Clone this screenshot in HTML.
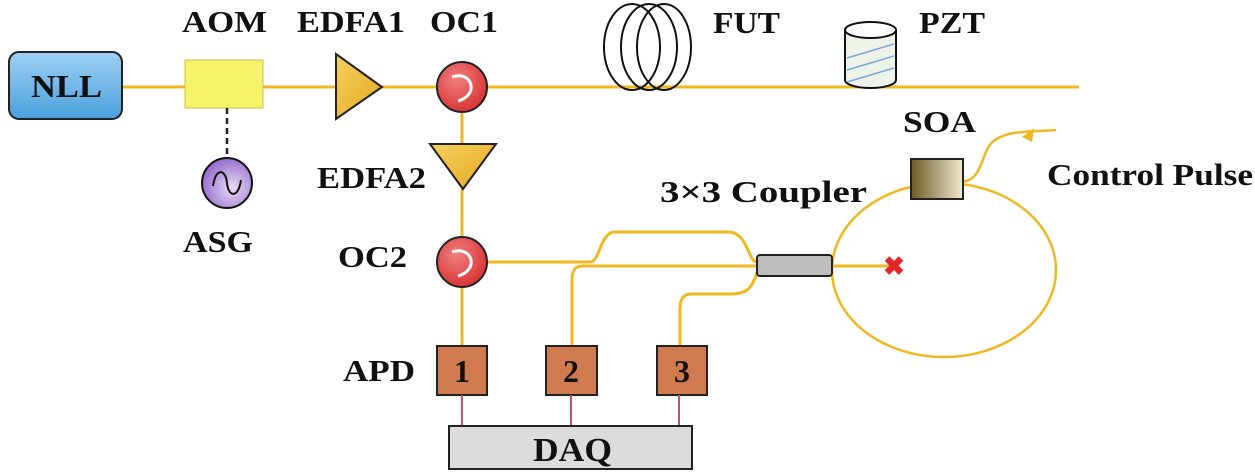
<!DOCTYPE html>
<html><head><meta charset="utf-8"><style>
html,body{margin:0;padding:0;background:#fff}
svg{display:block}
text{font-family:"Liberation Serif",serif;font-weight:bold;fill:#111}
</style></head><body>
<svg width="1255" height="475" viewBox="0 0 1255 475" xmlns="http://www.w3.org/2000/svg">
<defs>
<linearGradient id="blue" x1="0" y1="0" x2="0" y2="1"><stop offset="0" stop-color="#9fd0f2"/><stop offset="1" stop-color="#4aa0dc"/></linearGradient>
<radialGradient id="red" cx="0.4" cy="0.35" r="0.7"><stop offset="0" stop-color="#f08080"/><stop offset="1" stop-color="#d83030"/></radialGradient>
<radialGradient id="purp" cx="0.6" cy="0.6" r="0.7"><stop offset="0" stop-color="#e8ddf5"/><stop offset="1" stop-color="#8a5cc8"/></radialGradient>
<linearGradient id="tri" x1="0" y1="0" x2="1" y2="1"><stop offset="0" stop-color="#f5d060"/><stop offset="1" stop-color="#e6a820"/></linearGradient>
<linearGradient id="soa" x1="0" y1="0" x2="1" y2="0"><stop offset="0" stop-color="#6b5a25"/><stop offset="1" stop-color="#f2ead0"/></linearGradient>
</defs>
<g stroke="#f0b820" stroke-width="3" fill="none">
<line x1="122" y1="87" x2="1079" y2="87"/>
<line x1="462" y1="113" x2="462" y2="346"/>
<path d="M488 262 H590 C600 262 600 232 615 232 H728 C748 232 748 262 757 262"/>
<path d="M757 266 H582 C574 266 572 272 572 280 V346"/>
<path d="M757 272 C752 290 745 294 730 294 H692 C682 294 680 300 680 310 V346"/>
<line x1="832" y1="266" x2="890" y2="266"/>
<ellipse cx="944" cy="270" rx="112" ry="87" stroke-width="2.5"/>
<path d="M963 182 C985 178 980 150 995 140 C1010 130 1030 132 1056 130" stroke-width="2.5"/>
</g>
<polygon points="1022,137 1034,128 1032,142" fill="#f0b820"/>
<rect x="9" y="52" width="113" height="67" rx="10" fill="url(#blue)" stroke="#222" stroke-width="2"/>
<text x="31" y="97" font-size="32" textLength="71" lengthAdjust="spacingAndGlyphs">NLL</text>
<rect x="185" y="60" width="78" height="48" fill="#f6f36a" stroke="#c8c44a" stroke-width="1"/>
<line x1="227" y1="108" x2="227" y2="158" stroke="#222" stroke-width="2.5" stroke-dasharray="6,4"/>
<circle cx="227" cy="183" r="25" fill="url(#purp)" stroke="#111" stroke-width="2"/>
<path d="M213 186 C216 166 226 170 227 183 C228 196 238 200 241 180" fill="none" stroke="#111" stroke-width="2"/>
<polygon points="336,54 382,87 336,119" fill="url(#tri)" stroke="#222" stroke-width="2"/>
<polygon points="430,144 496,144 463,189" fill="url(#tri)" stroke="#222" stroke-width="2"/>
<g stroke="#222" stroke-width="2">
<circle cx="462" cy="87" r="25" fill="url(#red)"/>
<circle cx="462" cy="262" r="25" fill="url(#red)"/>
</g>
<g fill="none" stroke="#fff" stroke-width="3">
<path d="M452 77 C472 70 480 95 458 101"/>
<path d="M452 252 C472 245 480 270 458 276"/>
</g>
<g fill="none" stroke="#111" stroke-width="2">
<ellipse cx="632" cy="47" rx="28" ry="43"/>
<ellipse cx="649" cy="47" rx="28" ry="43"/>
<ellipse cx="664" cy="47" rx="27" ry="43"/>
</g>
<path d="M845 30 V80 A25.5 8 0 0 0 896 80 V30" fill="#eef3ea" stroke="#111" stroke-width="2"/>
<ellipse cx="870.5" cy="30" rx="25.5" ry="8" fill="#fff" stroke="#111" stroke-width="2"/>
<g stroke="#7aa8d8" stroke-width="1.5"><line x1="847" y1="58" x2="894" y2="44"/><line x1="847" y1="70" x2="894" y2="56"/><line x1="847" y1="82" x2="894" y2="68"/></g>
<rect x="911" y="159" width="52" height="40" fill="url(#soa)" stroke="#222" stroke-width="2"/>
<rect x="757" y="255" width="75" height="21" rx="3" fill="#bdbdbd" stroke="#222" stroke-width="2"/>
<text x="894" y="275" font-size="26" style="fill:#e02828" text-anchor="middle">✖</text>
<g fill="#d07a50" stroke="#222" stroke-width="2">
<rect x="437" y="346" width="50" height="49"/>
<rect x="546" y="346" width="51" height="49"/>
<rect x="657" y="346" width="50" height="49"/>
</g>
<g stroke="#c85060" stroke-width="2">
<line x1="462" y1="395" x2="462" y2="426"/><line x1="571" y1="395" x2="571" y2="426"/><line x1="679" y1="395" x2="679" y2="426"/>
</g>
<rect x="449" y="426" width="243" height="43" fill="#dcdcdc" stroke="#222" stroke-width="2"/>
<text x="533" y="461" font-size="34" textLength="79" lengthAdjust="spacingAndGlyphs">DAQ</text>
<g font-size="32" text-anchor="middle">
<text x="462" y="382">1</text><text x="571" y="382">2</text><text x="682" y="382">3</text>
</g>
<g font-size="31" lengthAdjust="spacingAndGlyphs">
<text x="182" y="32" textLength="85" lengthAdjust="spacingAndGlyphs">AOM</text>
<text x="297" y="32" textLength="108" lengthAdjust="spacingAndGlyphs">EDFA1</text>
<text x="430" y="32" textLength="68" lengthAdjust="spacingAndGlyphs">OC1</text>
<text x="713" y="33" textLength="67" lengthAdjust="spacingAndGlyphs">FUT</text>
<text x="919" y="33" textLength="66" lengthAdjust="spacingAndGlyphs">PZT</text>
<text x="903" y="132" textLength="73" lengthAdjust="spacingAndGlyphs">SOA</text>
<text x="1047" y="185" textLength="206" lengthAdjust="spacingAndGlyphs">Control Pulse</text>
<text x="660" y="202" textLength="207" lengthAdjust="spacingAndGlyphs">3×3 Coupler</text>
<text x="317" y="188" textLength="109" lengthAdjust="spacingAndGlyphs">EDFA2</text>
<text x="183" y="252" textLength="70" lengthAdjust="spacingAndGlyphs">ASG</text>
<text x="338" y="267" textLength="69" lengthAdjust="spacingAndGlyphs">OC2</text>
<text x="343" y="381" textLength="72" lengthAdjust="spacingAndGlyphs">APD</text>
</g>
</svg>
</body></html>
